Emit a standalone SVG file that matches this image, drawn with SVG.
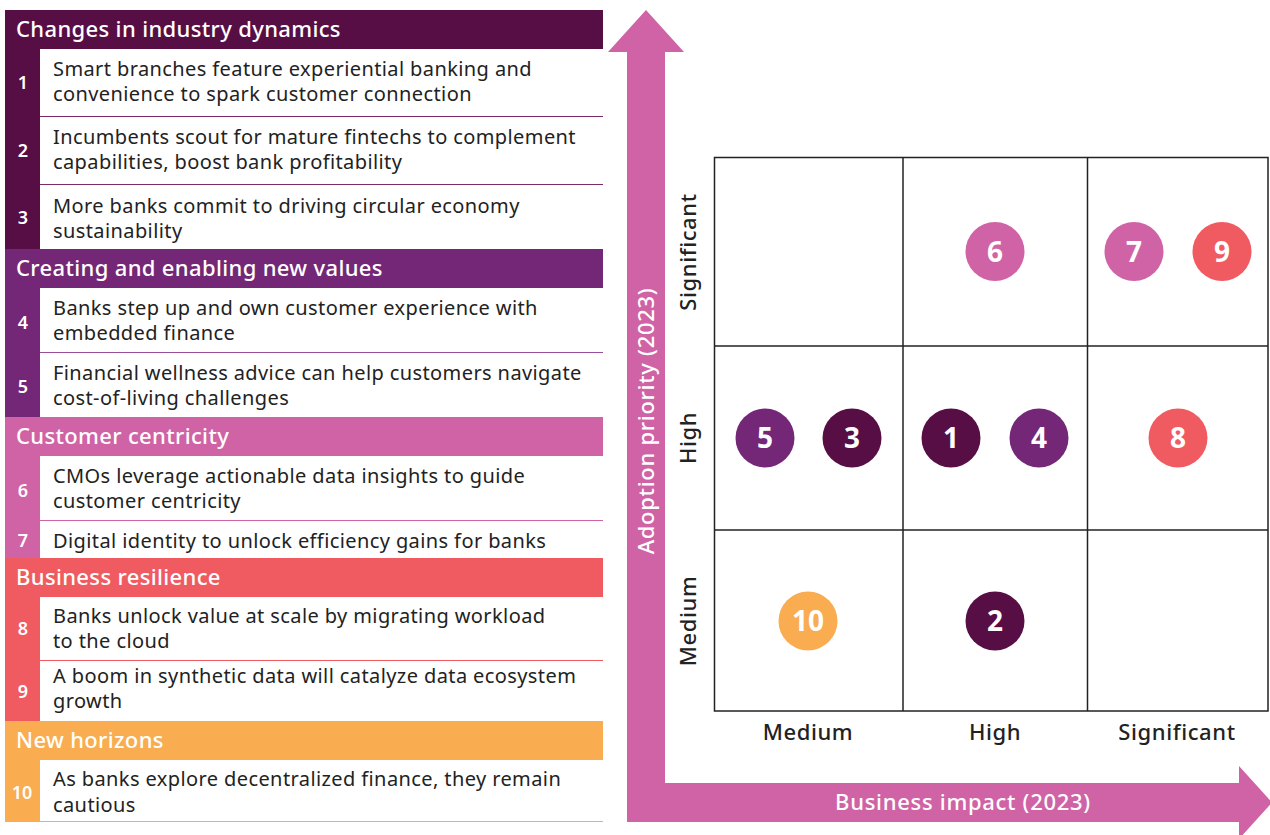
<svg xmlns="http://www.w3.org/2000/svg" width="1270" height="835" viewBox="0 0 1270 835">
<style>
.hd{font-family:"Noto Sans","DejaVu Sans",sans-serif;font-size:22px;letter-spacing:0.35px;font-weight:500;fill:#fff}
.num{font-family:"Noto Sans","DejaVu Sans",sans-serif;font-size:18px;font-weight:600;fill:#fff;text-anchor:middle}
.tx{font-family:"Noto Sans","DejaVu Sans",sans-serif;font-size:20px;letter-spacing:0.4px;fill:#222}
.ax{font-family:"Noto Sans","DejaVu Sans",sans-serif;font-size:22px;letter-spacing:0.6px;font-weight:500;fill:#222;text-anchor:middle}
.axw{font-family:"Noto Sans","DejaVu Sans",sans-serif;font-size:22px;letter-spacing:0.7px;font-weight:500;fill:#fff;text-anchor:middle}
.cn{font-family:"Noto Sans","DejaVu Sans",sans-serif;font-size:28px;font-weight:700;fill:#fff;text-anchor:middle}
.grid{fill:none;stroke:#222;stroke-width:1.5}
.c1{fill:#570E45}.c2{fill:#742677}.c3{fill:#D063A6}.c4{fill:#F05A61}.c5{fill:#F9AC50}
</style>
<rect width="1270" height="835" fill="#fff"/>
<g id="sec1">
<rect class="c1" x="5" y="10" width="598" height="39"/>
<rect class="c1" x="5" y="49" width="35" height="200"/>
<text class="hd" x="16" y="37">Changes in industry dynamics</text>
<line x1="40" y1="116.5" x2="603" y2="116.5" stroke="#7A2A66" stroke-width="1"/>
<line x1="40" y1="184.5" x2="603" y2="184.5" stroke="#7A2A66" stroke-width="1"/>
</g>
<g id="item1"><text class="num" x="23" y="89">1</text><text class="tx" x="53" y="76">Smart branches feature experiential banking and</text><text class="tx" x="53" y="101">convenience to spark customer connection</text></g>
<g id="item2"><text class="num" x="23" y="157">2</text><text class="tx" x="53" y="144">Incumbents scout for mature fintechs to complement</text><text class="tx" x="53" y="169">capabilities, boost bank profitability</text></g>
<g id="item3"><text class="num" x="23" y="224">3</text><text class="tx" x="53" y="213">More banks commit to driving circular economy</text><text class="tx" x="53" y="238">sustainability</text></g>
<g id="sec2">
<rect class="c2" x="5" y="249" width="598" height="39"/>
<rect class="c2" x="5" y="288" width="35" height="129"/>
<text class="hd" x="16" y="276">Creating and enabling new values</text>
<line x1="40" y1="352.5" x2="603" y2="352.5" stroke="#9A4E9A" stroke-width="1"/>
</g>
<g id="item4"><text class="num" x="23" y="329">4</text><text class="tx" x="53" y="315">Banks step up and own customer experience with</text><text class="tx" x="53" y="340">embedded finance</text></g>
<g id="item5"><text class="num" x="23" y="393">5</text><text class="tx" x="53" y="380">Financial wellness advice can help customers navigate</text><text class="tx" x="53" y="405">cost-of-living challenges</text></g>
<g id="sec3">
<rect class="c3" x="5" y="417" width="598" height="39"/>
<rect class="c3" x="5" y="456" width="35" height="102"/>
<text class="hd" x="16" y="444">Customer centricity</text>
<line x1="40" y1="520.5" x2="603" y2="520.5" stroke="#D063A6" stroke-width="1"/>
</g>
<g id="item6"><text class="num" x="23" y="497">6</text><text class="tx" x="53" y="483">CMOs leverage actionable data insights to guide</text><text class="tx" x="53" y="508">customer centricity</text></g>
<g id="item7"><text class="num" x="23" y="547">7</text><text class="tx" x="53" y="548">Digital identity to unlock efficiency gains for banks</text></g>
<g id="sec4">
<rect class="c4" x="5" y="558" width="598" height="39"/>
<rect class="c4" x="5" y="597" width="35" height="124"/>
<text class="hd" x="16" y="585">Business resilience</text>
<line x1="40" y1="660.5" x2="603" y2="660.5" stroke="#F05A61" stroke-width="1"/>
</g>
<g id="item8"><text class="num" x="23" y="635">8</text><text class="tx" x="53" y="623">Banks unlock value at scale by migrating workload</text><text class="tx" x="53" y="648">to the cloud</text></g>
<g id="item9"><text class="num" x="23" y="698">9</text><text class="tx" x="53" y="683">A boom in synthetic data will catalyze data ecosystem</text><text class="tx" x="53" y="708">growth</text></g>
<g id="sec5">
<rect class="c5" x="5" y="721" width="598" height="39"/>
<rect class="c5" x="5" y="760" width="35" height="62"/>
<text class="hd" x="16" y="748">New horizons</text>
<line x1="40" y1="821.5" x2="603" y2="821.5" stroke="#F9AC50" stroke-width="1"/>
</g>
<g id="item10"><text class="num" x="22" y="799">10</text><text class="tx" x="53" y="786">As banks explore decentralized finance, they remain</text><text class="tx" x="53" y="812">cautious</text></g>
<g id="axes">
<path class="c3" d="M646 10 L684 52 L665 52 L665 783 L1239 783 L1239 766 L1272 802.5 L1239 839 L1239 822 L627 822 L627 52 L608 52 Z"/>
<text class="axw" transform="translate(654 421) rotate(-90)">Adoption priority (2023)</text>
<text class="axw" x="963" y="810">Business impact (2023)</text>
</g>
<g id="grid">
<rect class="grid" x="714.5" y="157.5" width="553.5" height="553.5"/>
<line class="grid" x1="903" y1="157.5" x2="903" y2="711" stroke="#666"/>
<line class="grid" x1="1087.5" y1="157.5" x2="1087.5" y2="711"/>
<line class="grid" x1="714.5" y1="346" x2="1268" y2="346" stroke="#666"/>
<line class="grid" x1="714.5" y1="530" x2="1268" y2="530"/>
<text class="ax" transform="translate(696 252) rotate(-90)">Significant</text>
<text class="ax" transform="translate(696 438) rotate(-90)">High</text>
<text class="ax" transform="translate(696 621) rotate(-90)">Medium</text>
<text class="ax" x="808" y="740">Medium</text>
<text class="ax" x="995" y="740">High</text>
<text class="ax" x="1177" y="740">Significant</text>
</g>
<g id="bubbles">
<g id="b6"><circle class="c3" cx="995" cy="251.5" r="29.5"/><text class="cn" x="995" y="261.5">6</text></g>
<g id="b7"><circle class="c3" cx="1134" cy="251.5" r="29.5"/><text class="cn" x="1134" y="261.5">7</text></g>
<g id="b9"><circle class="c4" cx="1222" cy="251.5" r="29.5"/><text class="cn" x="1222" y="261.5">9</text></g>
<g id="b5"><circle class="c2" cx="765" cy="438" r="29.5"/><text class="cn" x="765" y="448">5</text></g>
<g id="b3"><circle class="c1" cx="852" cy="438" r="29.5"/><text class="cn" x="852" y="448">3</text></g>
<g id="b1"><circle class="c1" cx="951" cy="438" r="29.5"/><text class="cn" x="951" y="448">1</text></g>
<g id="b4"><circle class="c2" cx="1039" cy="438" r="29.5"/><text class="cn" x="1039" y="448">4</text></g>
<g id="b8"><circle class="c4" cx="1178" cy="438" r="29.5"/><text class="cn" x="1178" y="448">8</text></g>
<g id="b10"><circle class="c5" cx="808" cy="621" r="29.5"/><text class="cn" x="808" y="631">10</text></g>
<g id="b2"><circle class="c1" cx="995" cy="621" r="29.5"/><text class="cn" x="995" y="631">2</text></g>
</g>
</svg>
